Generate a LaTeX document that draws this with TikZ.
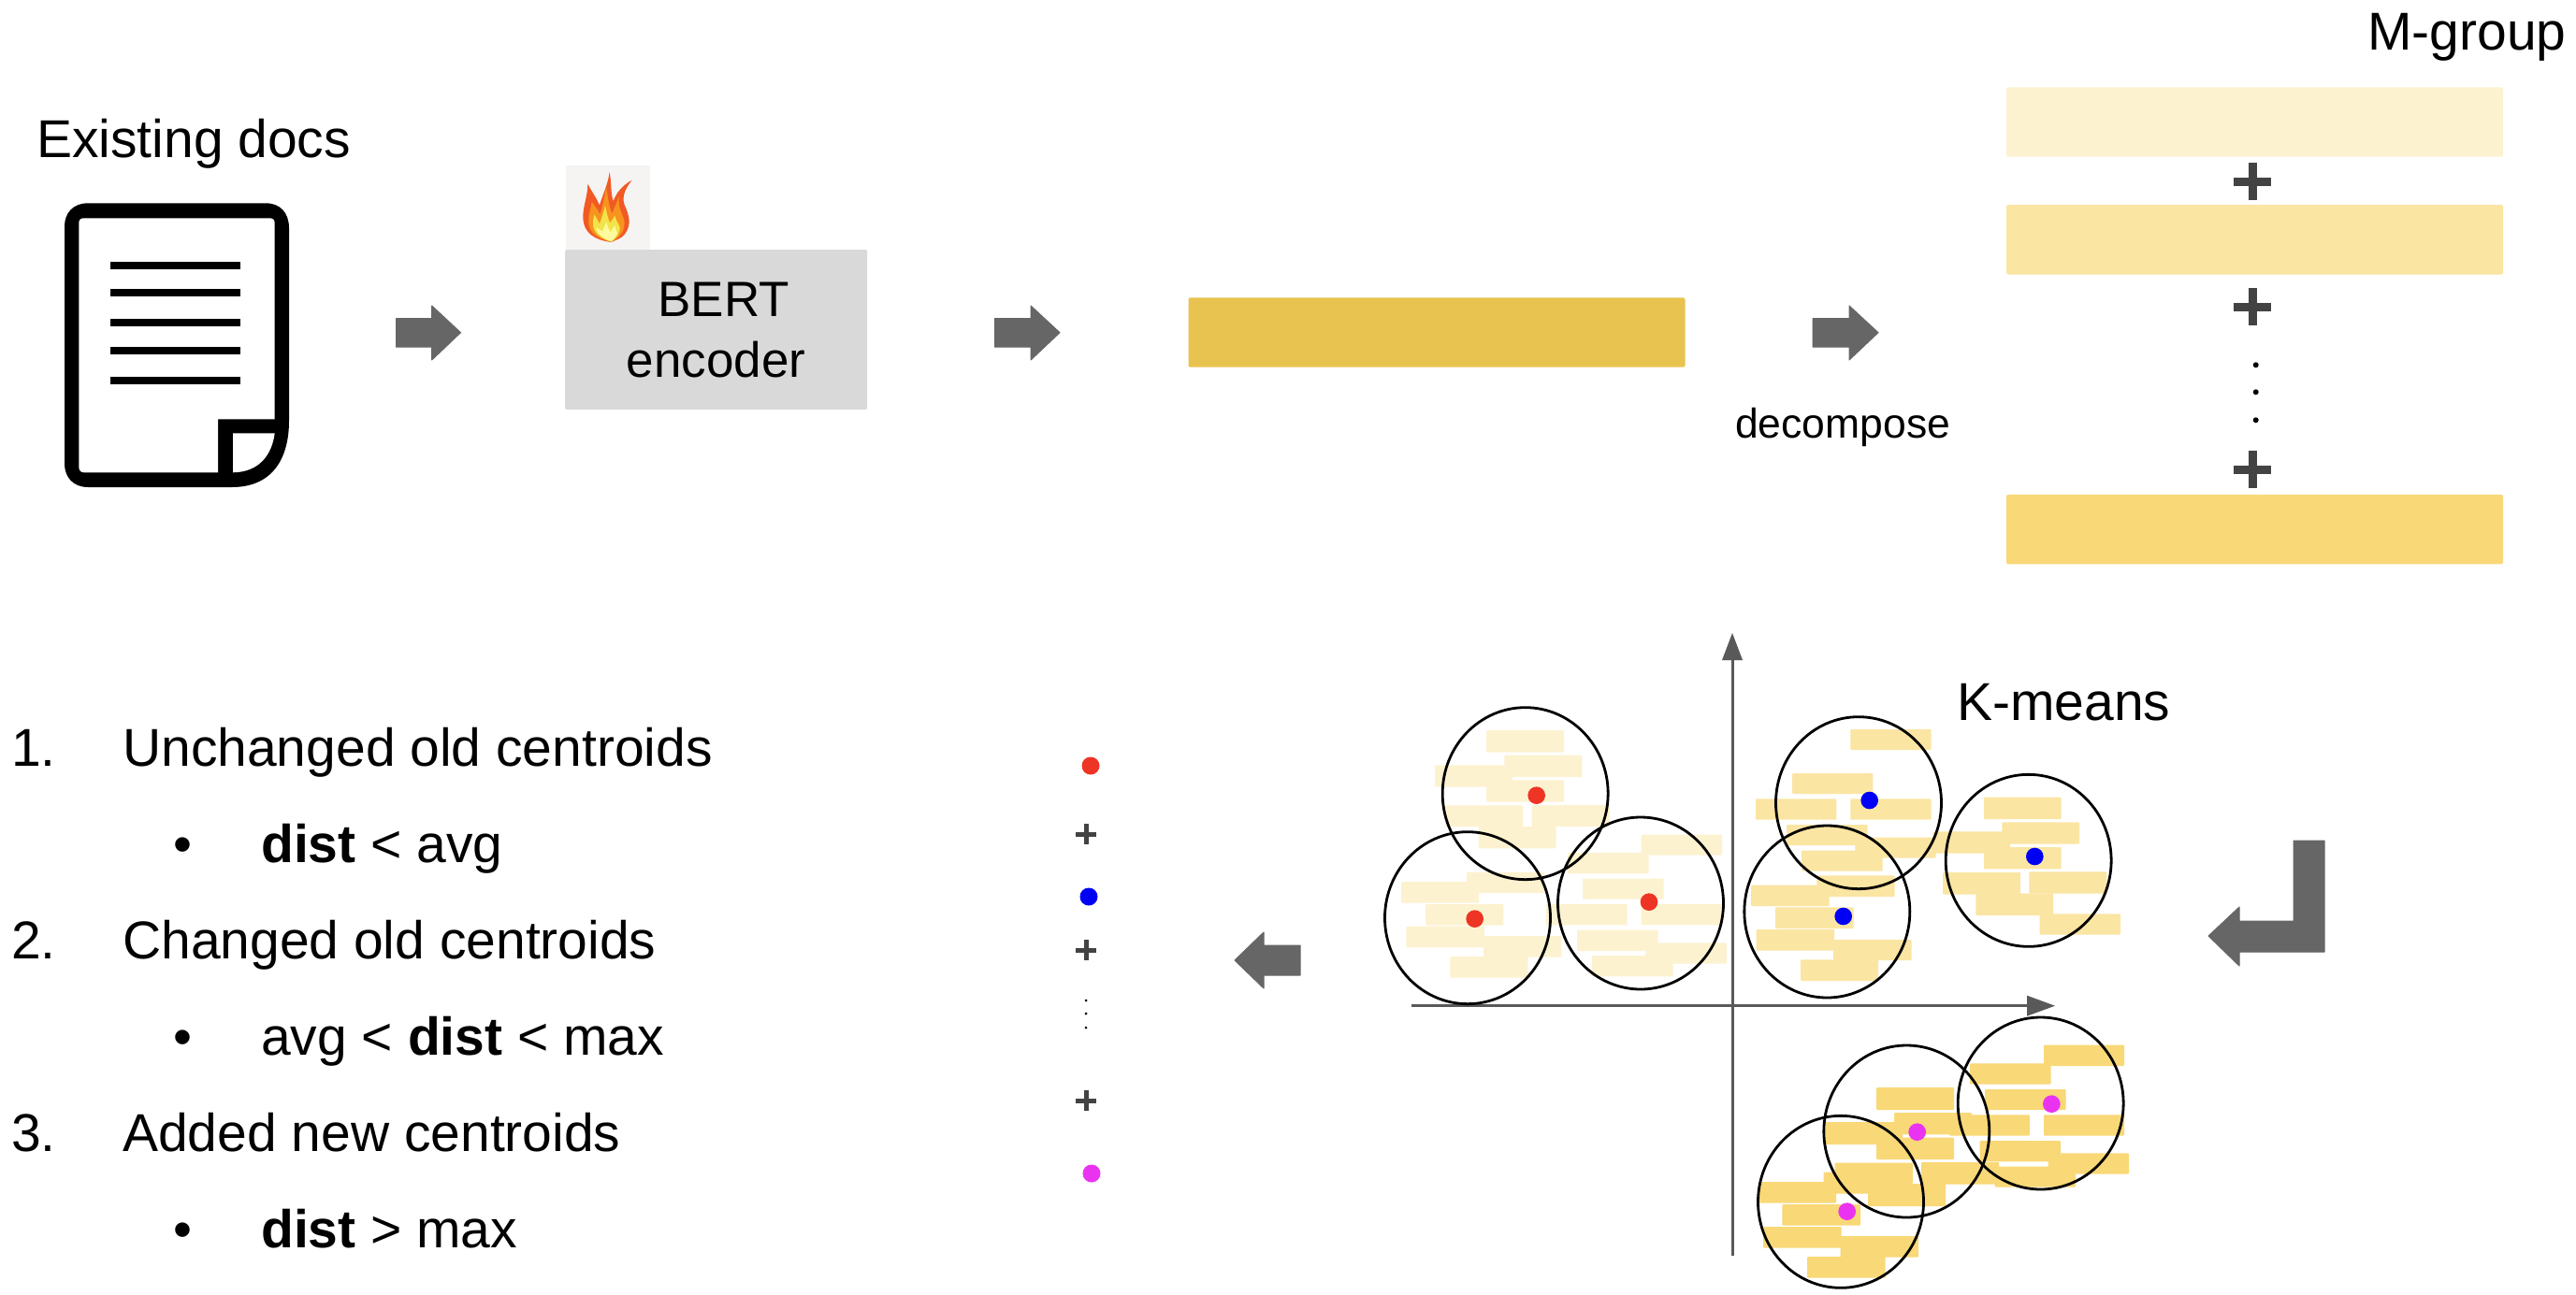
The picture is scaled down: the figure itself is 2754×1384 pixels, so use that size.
\documentclass[tikz,border=0pt]{standalone}
\usepackage{fontspec}
\setmainfont{Liberation Sans}
\definecolor{arrowgrey}{HTML}{666666}
\definecolor{plusgrey}{HTML}{434343}
\definecolor{axisgrey}{HTML}{595959}
\definecolor{boxgrey}{HTML}{D9D9D9}
\definecolor{flamebg}{HTML}{F6F4F2}
\definecolor{flameouter}{HTML}{F15A24}
\definecolor{flamemid}{HTML}{F7931E}
\definecolor{flameyellow}{HTML}{F2E44A}
\definecolor{flamepale}{HTML}{FDFB9E}
\definecolor{barmain}{HTML}{E8C34F}
\definecolor{barlight}{HTML}{FDF2D0}
\definecolor{barmid}{HTML}{FBE5A3}
\definecolor{bardark}{HTML}{F9D877}
\definecolor{dotred}{HTML}{EE3424}
\definecolor{dotblue}{HTML}{0000F5}
\definecolor{dotmag}{HTML}{EA33F0}
\tikzset{
  big/.style={font=\fontsize{57}{60}\selectfont,anchor=base west,inner sep=0pt},
  mid/.style={font=\fontsize{53}{56}\selectfont,anchor=base,inner sep=0pt},
  small/.style={font=\fontsize{44.5}{48}\selectfont,anchor=base west,inner sep=0pt},
  block/.style={fill=arrowgrey,draw=arrowgrey,line width=1pt,line join=round},
  ring/.style={draw=black,line width=2.8pt},
  bar/.style={inner sep=0pt,minimum height=74.4pt,minimum width=531pt,rounded corners=1.5pt},
  clusterframe/.style={scale=1/3},
}
\newcommand{\plussign}[4]{% x y half-arm thickness
  \fill[plusgrey] (#1-#3,#2-#4/2) rectangle (#1+#3,#2+#4/2);
  \fill[plusgrey] (#1-#4/2,#2-#3) rectangle (#1+#4/2,#2+#3);}
\newcommand{\clusterrects}[2]{%
  \foreach \a/\b/\c/\d in {#2} \fill[#1,rounded corners=1pt] (\a,\b) rectangle (\c,\d);}
\newcommand{\clusterdots}[2]{%
  \foreach \x/\y in {#2} \fill[#1] (\x,\y) circle (28);}
\newcommand{\clusterrings}[1]{%
  \foreach \x/\y in {#1} \draw[ring] (\x,\y) ellipse [x radius=265.5,y radius=276];}
\begin{document}
\begin{tikzpicture}[x=1pt,y=-1pt]
\useasboundingbox (0,0) rectangle (2754,1384);
\fill[white] (0,0) rectangle (2754,1384);

% document icon
\fill[black] (94,217.3) -- (284,217.3) .. controls (300,217.3) and (309,228) .. (309,244)
  -- (309,450) .. controls (309,492) and (290,521) .. (248,521) -- (94,521)
  .. controls (78,521) and (69,510) .. (69,496) -- (69,242) .. controls (69,228) and (78,217.3) .. (94,217.3) -- cycle;
\fill[white] (90,233.3) -- (288,233.3) .. controls (292,233.3) and (293.7,235) .. (293.7,239) -- (293.7,448.3) -- (233,448.3)
  -- (233,505.3) -- (90,505.3) .. controls (86,505.3) and (84.3,503) .. (84.3,499) -- (84.3,239) .. controls (84.3,235) and (86,233.3) .. (90,233.3) -- cycle;
\fill[white] (249,463.3) -- (293.7,463.3) .. controls (291,485) and (278,505) .. (249,505.3) -- cycle;
\foreach \yy in {284,313.3,345.3,374.7,406.7} \fill[black] (118,\yy-4) rectangle (257.3,\yy+4);
\node[big] (existing) at (39,168) {Existing docs};

% arrows, top row
\fill[block] (423.5,340.5) -- (461.7,340.5) -- (461.7,327) -- (492.5,355.7) -- (461.7,385) -- (461.7,371.2) -- (423.5,371.2) -- cycle;
\fill[block] (1063.5,340.5) -- (1102,340.5) -- (1102,327) -- (1133,355.7) -- (1102,385) -- (1102,371.2) -- (1063.5,371.2) -- cycle;
\fill[block] (1938,340.5) -- (1977,340.5) -- (1977,327) -- (2008,355.7) -- (1977,385) -- (1977,371.2) -- (1938,371.2) -- cycle;

% flame
\fill[flamebg] (605,177) rectangle (695,267);
\begin{scope}[shift={(560,160)},scale=1/3]
  \fill[flameouter] (280,297) .. controls (230,290) and (190,270) .. (190,215)
    .. controls (190,180) and (205,150) .. (205,110) .. controls (215,130) and (230,150) .. (243,178)
    .. controls (255,140) and (270,110) .. (275,72) .. controls (282,110) and (278,140) .. (287,165)
    .. controls (300,130) and (325,110) .. (347,98) .. controls (325,125) and (315,150) .. (322,175)
    .. controls (340,215) and (345,240) .. (325,270) .. controls (315,285) and (295,290) .. (280,297) -- cycle;
  \fill[flamemid] (280,296) .. controls (240,285) and (205,270) .. (208,225)
    .. controls (208,205) and (215,190) .. (218,168) .. controls (228,180) and (238,195) .. (245,208)
    .. controls (252,180) and (260,150) .. (264,120) .. controls (270,150) and (272,180) .. (283,205)
    .. controls (290,190) and (298,170) .. (305,150) .. controls (302,180) and (312,200) .. (322,225)
    .. controls (328,260) and (305,285) .. (280,296) -- cycle;
  \fill[flameyellow] (280,296) .. controls (245,285) and (220,265) .. (222,235)
    .. controls (222,225) and (224,218) .. (226,208) .. controls (232,218) and (238,228) .. (243,238)
    .. controls (250,220) and (256,200) .. (261,180) .. controls (265,200) and (270,220) .. (276,235)
    .. controls (282,228) and (288,220) .. (292,212) .. controls (295,225) and (302,235) .. (308,248)
    .. controls (310,270) and (295,285) .. (280,296) -- cycle;
  \fill[flamepale] (280,294) .. controls (255,285) and (232,268) .. (232,250)
    .. controls (240,255) and (246,258) .. (252,262) .. controls (258,250) and (262,240) .. (265,232)
    .. controls (268,245) and (272,255) .. (278,265) .. controls (283,258) and (288,250) .. (291,243)
    .. controls (295,255) and (298,262) .. (300,270) .. controls (295,280) and (288,288) .. (280,294) -- cycle;
\end{scope}

% encoder
\node[fill=boxgrey,inner sep=0pt,minimum width=323pt,minimum height=171pt,rounded corners=1.5pt] (bert) at (765.5,352.5) {};
\node[mid] (berttext) at (773.5,338) {BERT};
\node[mid] (enctext) at (765.5,403) {encoder};

% embedding and groups
\node[bar,fill=barmain] (mainbar) at (1536,355.5) {};
\node[bar,fill=barlight] (group1) at (2410.5,130.5) {};
\node[bar,fill=barmid] (group2) at (2410.5,256.3) {};
\node[bar,fill=bardark] (group3) at (2410.5,566.2) {};
\node[big] (mgroup) at (2531,53) {M-group};
\node[small] (decomp) at (1855,468) {decompose};
\plussign{2408.3}{194.3}{20}{9.5}
\plussign{2408.3}{328.3}{20}{9.5}
\plussign{2408.3}{502.3}{20}{9.5}
\foreach \yy in {390.3,419.3,449.3} \fill[black] (2411.7,\yy) circle (3);

% k-means cluster plot: rectangles
\begin{scope}[shift={(1470,750)},clusterframe]
  \clusterrects{barlight}{357/93/606/164,415/173/664/243,192/205/441/275,357/253/606/323,226/334/474/402,503/333/752/402,332/402/581/472,
    294/548/543/615,84/579/333/647,162/651/412/719,100/722/351/790,348/753/598/821,241/819/491/887,
    854/428/1113/494,618/486/878/553,666/569/926/635,549/651/809/718,854/651/1113/718,648/734/908/801,868/775/1128/842,696/816/956/883}
\end{scope}
\begin{scope}[shift={(1860,760)},clusterframe]
  \clusterrects{barmid}{355/60/614/126,168/201/427/267,51/283/310/350,355/283/614/350,150/366/410/432,370/407/629/473,198/449/458/515,247/529/497/597,36/560/287/627,114/631/365/699,53/702/303/770,300/735/551/801,195/799/444/867,
    783/278/1031/348,841/358/1089/428,620/388/867/458,783/438/1031/508,651/519/900/590,928/517/1177/587,757/587/1005/657,962/652/1221/719}
\end{scope}
\begin{scope}[shift={(1850,1100)},clusterframe]
  \clusterrects{bardark}{1005/53/1263/120,768/112/1028/179,816/195/1076/261,1005/277/1263/344,800/360/1059/427,1019/400/1278/467,848/443/1107/509,
    468/189/717/261,525/270/774/340,702/277/960/344,305/300/552/372,468/350/717/420,335/431/585/498,612/429/861/500,441/498/690/570,
    299/461/548/530,90/492/339/560,166/564/417/632,105/636/356/704,353/666/603/734,246/732/497/800}
\end{scope}

% axes
\coordinate (ybottom) at (1852,1343);
\coordinate (ytop) at (1852,700);
\coordinate (xleft) at (1509,1075.7);
\coordinate (xright) at (2172,1075.7);
\draw[axisgrey,line width=3pt] (ybottom) -- (ytop);
\fill[axisgrey] (1852,677) -- (1863,706) -- (1841,706) -- cycle;
\draw[axisgrey,line width=3pt] (xleft) -- (xright);
\fill[axisgrey] (2197,1075.7) -- (2167,1064.7) -- (2167,1086.7) -- cycle;

% centroids and rings
\begin{scope}[shift={(1470,750)},clusterframe]
  \clusterdots{dotred}{518/302,320/698,879/644}
  \clusterrings{482/296,297/695,852/648}
\end{scope}
\begin{scope}[shift={(1860,760)},clusterframe]
  \clusterdots{dotblue}{416/288,332/660,946/468}
  \clusterrings{381/296,280/645,926/481}
\end{scope}
\begin{scope}[shift={(1850,1100)},clusterframe]
  \clusterdots{dotmag}{1030/242,599/332,374/587}
  \clusterrings{995/240,565/330,354/556}
\end{scope}
\node[big] (kmeans) at (2092,770) {K-means};

% bent arrow and left arrow
\fill[block] (2361,1001) -- (2394,970) -- (2394,985) -- (2452,985) -- (2452,899) -- (2485,899) -- (2485,1018) -- (2394,1018) -- (2394,1033) -- cycle;
\fill[block] (1320,1027) -- (1351,997) -- (1351,1011) -- (1390,1011) -- (1390,1043) -- (1351,1043) -- (1351,1057) -- cycle;

% centroid sum
\fill[dotred] (1166,819) circle (9.5);
\fill[dotblue] (1164,959) circle (9.5);
\fill[dotmag] (1167,1255) circle (9.5);
\plussign{1161}{892}{11}{5}
\plussign{1161}{1016}{11}{5}
\plussign{1161}{1177}{11}{5}
\foreach \yy in {1070,1084,1099} \fill[black] (1161,\yy) circle (1.5);

% list
\node[big] (n1) at (12,819.3) {1.};
\node[big] (t1) at (131,819.3) {Unchanged old centroids};
\node[big] (b1) at (185,922.3) {•};
\node[big] (d1) at (279,922.3) {\textbf{dist} < avg};
\node[big] (n2) at (12,1025.3) {2.};
\node[big] (t2) at (131,1025.3) {Changed old centroids};
\node[big] (b2) at (185,1128) {•};
\node[big] (d2) at (279,1128) {avg < \textbf{dist} < max};
\node[big] (n3) at (12,1231) {3.};
\node[big] (t3) at (131,1231) {Added new centroids};
\node[big] (b3) at (185,1334.3) {•};
\node[big] (d3) at (279,1334.3) {\textbf{dist} > max};
\end{tikzpicture}
\end{document}
